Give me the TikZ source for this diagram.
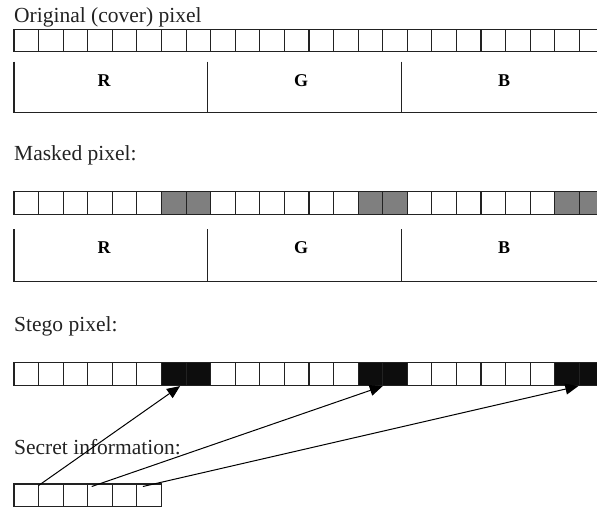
\documentclass[tikz,border=0pt]{standalone}
\usepackage{fontspec}
\setmainfont{Liberation Serif}
\usetikzlibrary{arrows.meta,calc}
\definecolor{maskgrey}{HTML}{7F7F7F}
\definecolor{stegoblack}{HTML}{0D0D0D}
\definecolor{edge}{HTML}{222222}
\begin{document}
\begin{tikzpicture}[x=1pt,y=-1pt,
  cell/.style={draw=edge, line width=1.1pt, minimum width=24.58pt, minimum height=22.4pt,
    inner sep=0pt, outer sep=0pt, anchor=north west},
  title/.style={anchor=base west, inner sep=0pt, text=edge, font=\fontsize{21.5}{24}\selectfont},
  chan/.style={inner sep=0pt, font=\fontsize{18}{20}\selectfont\bfseries},
  boxline/.style={draw=edge, line width=1.1pt},
  link/.style={line width=1pt, -{Triangle[length=13pt,width=11pt]}}]
\useasboundingbox (0,0) rectangle (597,506);

% Original (cover) pixel
\node[title] (t1) at (14,23) {Original (cover) pixel};
\foreach \i in {1,...,24}{
  \node[cell] (o\i) at ({14+(\i-1)*24.58},29.3) {};
}
\draw[boxline] (14,61.7) -- (14,112.7) -- (600,112.7);
\draw[boxline] (207.3,61.7) -- (207.3,112.7);
\draw[boxline] (401.7,61.7) -- (401.7,112.7);
\node[chan] (r1) at (104,80.5) {R};
\node[chan] (g1) at (301,80.5) {G};
\node[chan] (b1) at (504,80.5) {B};

% Masked pixel
\node[title] (t2) at (14,160.7) {Masked pixel:};
\foreach \i in {1,...,24}{
  \pgfmathtruncatemacro\r{mod(\i-1,8)}
  \ifnum\r>5 \def\fc{maskgrey}\else\def\fc{white}\fi
  \node[cell,fill=\fc] (m\i) at ({14+(\i-1)*24.58},191.7) {};
}
\draw[boxline] (14,229.3) -- (14,281.7) -- (600,281.7);
\draw[boxline] (207.3,229.3) -- (207.3,281.7);
\draw[boxline] (401.7,229.3) -- (401.7,281.7);
\node[chan] (r2) at (104,248) {R};
\node[chan] (g2) at (301,248) {G};
\node[chan] (b2) at (504,248) {B};

% Stego pixel
\node[title] (t3) at (14,331.7) {Stego pixel:};
\foreach \i in {1,...,24}{
  \pgfmathtruncatemacro\r{mod(\i-1,8)}
  \ifnum\r>5 \def\fc{stegoblack}\else\def\fc{white}\fi
  \node[cell,fill=\fc] (k\i) at ({14+(\i-1)*24.58},362.7) {};
}

% Secret information
\node[title] (t4) at (14,454) {Secret information:};
\foreach \i in {1,...,6}{
  \node[cell] (s\i) at ({14+(\i-1)*24.58},484) {};
}

% Embedding arrows
\draw[link] ([yshift=-1.5pt]s2.north west) -- ([xshift=-6pt,yshift=-1pt]k7.south east);
\draw[link] ([xshift=4pt,yshift=-2.5pt]s4.north west) -- ([yshift=-1pt]k16.south west);
\draw[link] ([xshift=6pt,yshift=-2.5pt]s6.north west) -- ([xshift=-1pt,yshift=-1pt]k24.south west);
\end{tikzpicture}
\end{document}
